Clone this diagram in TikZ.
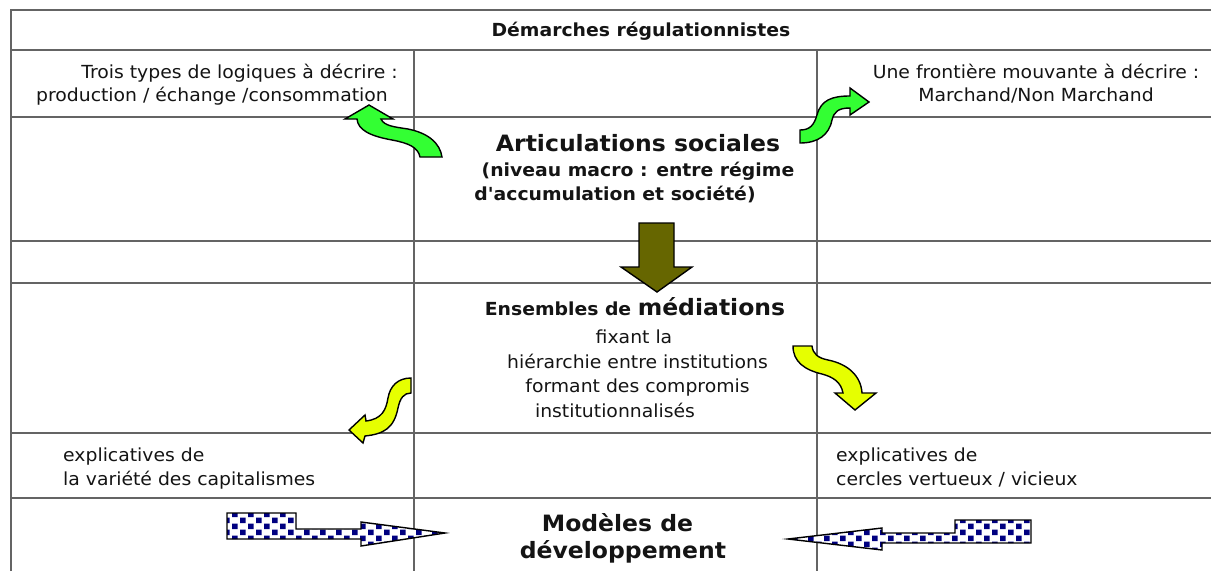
\documentclass[tikz,border=0pt]{standalone}
\usepackage{fontspec}
\setmainfont{DejaVu Sans}[FakeStretch=1.045, Ligatures=TeXOff]
\usetikzlibrary{patterns}
\definecolor{gridgray}{RGB}{100,100,100}
\definecolor{textblack}{RGB}{20,20,20}
\definecolor{arrgreen}{RGB}{51,255,51}
\definecolor{arryellow}{RGB}{230,255,0}
\definecolor{arrolive}{RGB}{102,102,0}
\definecolor{checknavy}{RGB}{0,0,128}
\pgfdeclarepatternformonly{bigcheck}{\pgfpoint{-0.5pt}{-0.5pt}}{\pgfpoint{16.5pt}{12.5pt}}{\pgfpoint{16pt}{12pt}}{%
  \pgfpathrectangle{\pgfpoint{0pt}{0pt}}{\pgfpoint{5.5pt}{5.5pt}}%
  \pgfpathrectangle{\pgfpoint{8pt}{6pt}}{\pgfpoint{5.5pt}{5.5pt}}%
  \pgfusepath{fill}}
\tikzset{
  gridline/.style={draw=gridgray, line width=1.3pt},
  txt/.style={inner sep=0pt, text=textblack, font=\fontsize{18}{22}\selectfont},
  btxt/.style={inner sep=0pt, text=textblack, font=\fontsize{18}{22}\selectfont\bfseries},
  bigtxt/.style={inner sep=0pt, text=textblack, font=\fontsize{22.5}{27}\selectfont\bfseries},
  shapeline/.style={draw=black, line width=1.4pt, line join=miter},
  greenarrow/.style={shapeline, fill=arrgreen},
  yellowarrow/.style={shapeline, fill=arryellow},
  olivearrow/.style={shapeline, fill=arrolive},
  checkarrow/.style={shapeline, preaction={fill=white}, pattern=bigcheck, pattern color=checknavy},
}
\begin{document}
\begin{tikzpicture}[x=1pt,y=-1pt]
\useasboundingbox (0,0) rectangle (1211,571);
\fill[white] (0,0) rectangle (1211,571);
% grid
\draw[gridline] (11,571) -- (11,10) -- (1211,10);
\foreach \yy in {50,117,241,283,433,498} {\draw[gridline] (11,\yy) -- (1211,\yy);}
\draw[gridline] (414,50) -- (414,571);
\draw[gridline] (817,50) -- (817,571);
% texts
\node[btxt, anchor=base] (title) at (641,36) {Démarches régulationnistes};
\node[txt, anchor=base east] (trois1) at (398,78) {Trois types de logiques à décrire :};
\node[txt, anchor=base east] (trois2) at (388,101) {production / échange /consommation};
\node[txt, anchor=base] (front1) at (1036,78) {Une frontière mouvante à décrire :};
\node[txt, anchor=base] (front2) at (1036,101) {Marchand/Non Marchand};
\node[bigtxt, anchor=base] (artic) at (638,151) {Articulations sociales};
\node[btxt, anchor=base] (niveau) at (638,176) {(niveau macro : entre régime};
\node[btxt, anchor=base] (accum) at (615,200) {d'accumulation et société)};
\node[anchor=base, inner sep=0pt, text=textblack] (ens) at (635,315) {\fontsize{18}{22}\selectfont\bfseries Ensembles de {\fontsize{22.5}{27}\selectfont médiations}};
\node[txt, anchor=base] (fix) at (634,343) {fixant la};
\node[txt, anchor=base] (hier) at (637.5,368) {hiérarchie entre institutions};
\node[txt, anchor=base] (form) at (637.5,392) {formant des compromis};
\node[txt, anchor=base] (inst) at (615,417) {institutionnalisés};
\node[txt, anchor=base west] (expl1) at (63,461) {explicatives de};
\node[txt, anchor=base west] (expl2) at (63,485) {la variété des capitalismes};
\node[txt, anchor=base west] (expr1) at (836,461) {explicatives de};
\node[txt, anchor=base west] (expr2) at (836,485) {cercles vertueux / vicieux};
\node[bigtxt, anchor=base] (mod1) at (617.5,531) {Modèles de};
\node[bigtxt, anchor=base] (mod2) at (623,558) {développement};
% green arrows
\draw[greenarrow] (369,105) -- (393,119) -- (381,119)
  .. controls (384,126) and (395,127) .. (408,129)
  .. controls (428,133) and (440,143) .. (442,157) -- (420,157)
  .. controls (418,147) and (408,143) .. (392,140)
  .. controls (370,136) and (358,130) .. (357,119) -- (345,119) -- cycle;
\draw[greenarrow] (869,102) -- (850,115) -- (850,108)
  .. controls (838,108) and (834,112) .. (832,120)
  .. controls (829,135) and (818,143) .. (800,143) -- (800,130)
  .. controls (810,130) and (814,125) .. (817,115)
  .. controls (821,100) and (832,96) .. (850,96) -- (850,88) -- cycle;
% olive arrow
\draw[olivearrow] (639,223) -- (674,223) -- (674,267) -- (692,267) -- (657,292) -- (621,267) -- (639,267) -- cycle;
% yellow arrows
\draw[yellowarrow] (349,430) -- (365,415) -- (366,421)
  .. controls (382,419) and (386,410) .. (388,398)
  .. controls (390,386) and (398,378) .. (411,378) -- (411,393)
  .. controls (404,393) and (400,398) .. (398,408)
  .. controls (394,428) and (384,434) .. (365,436) -- (363,443) -- cycle;
\draw[yellowarrow] (855,410) -- (835,393) -- (843,393)
  .. controls (841,382) and (833,377) .. (822,374)
  .. controls (805,370) and (793,362) .. (793,346) -- (812,346)
  .. controls (813,354) and (818,358) .. (828,360)
  .. controls (848,364) and (861,376) .. (862,393) -- (876,393) -- cycle;
% checkered arrows
\draw[checkarrow] (227,513) -- (296,513) -- (296,529) -- (361,529) -- (361,522) -- (445,533) -- (361,546) -- (361,539) -- (227,539) -- cycle;
\draw[checkarrow] (1031,520) -- (955,520) -- (955,533) -- (882,533) -- (882,528) -- (788,539) -- (882,550) -- (882,543) -- (1031,543) -- cycle;
\end{tikzpicture}
\end{document}
